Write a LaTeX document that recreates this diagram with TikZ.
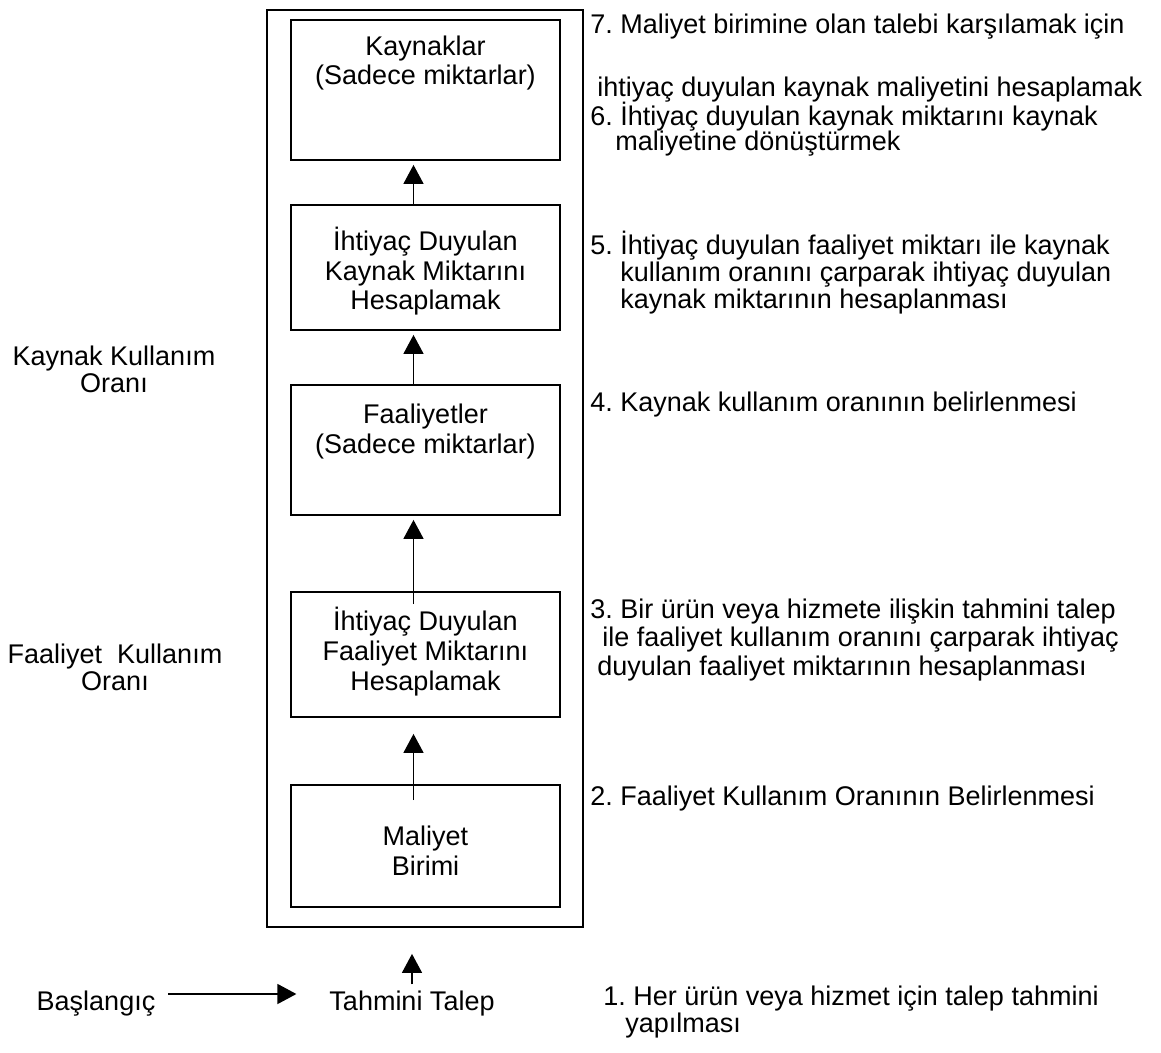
\documentclass[tikz,border=0pt]{standalone}
\usepackage{fontspec}
\setmainfont{Liberation Sans}
\usetikzlibrary{arrows.meta,positioning}
\newcommand{\notefont}{\fontsize{13.5}{13.5}\selectfont}
\newcommand{\boxfont}{\fontsize{13.5}{14.8}\selectfont}
\frenchspacing
\tikzset{
  stepbox/.style={draw,line width=0.9pt,minimum width=134.5pt,minimum height=62.5pt,
    align=center,inner sep=0pt,text height=0pt,text depth=0pt,font=\boxfont},
  framebox/.style={draw,line width=0.9pt,minimum width=158pt,minimum height=458.5pt,inner sep=0pt},
  flowarrow/.style={-{Triangle[length=9.5pt,width=10pt]},line width=0.75pt},
  ratelabel/.style={align=center,anchor=base,inner sep=0pt,font=\notefont},
  stepnote/.style={align=left,anchor=base west,inner sep=0pt,font=\notefont},
  plainlabel/.style={font=\notefont}
}

\begin{document}
\begin{tikzpicture}[x=0.5pt,y=-0.5pt]
  \useasboundingbox (0,0) rectangle (1161,1053);
  % outer frame and the five steps
  \node[framebox] (frame) at (425,468.5) {};
  \node[stepbox,minimum height=70pt,text depth=5pt] (kaynak) at (425.5,90) {Kaynaklar\\(Sadece miktarlar)};
  \node[stepbox,text height=42.5pt] (kmiktar) at (425.5,267.5) {İhtiyaç Duyulan\\Kaynak Miktarını\\Hesaplamak};
  \node[stepbox,minimum height=65pt,text height=3pt] (faaliyet) at (425.5,450) {Faaliyetler\\(Sadece miktarlar)};
  \node[stepbox,text height=35.5pt] (fmiktar) at (425.5,654.5) {İhtiyaç Duyulan\\Faaliyet Miktarını\\Hesaplamak};
  \node[stepbox,minimum height=61pt,text height=29pt] (birim) at (425.5,846) {Maliyet\\Birimi};

  % rates on the left
  \node[ratelabel] (kkoran) at (114,393) {Kaynak Kullanım\\Oranı};
  \node[ratelabel] (fkoran) at (115,690) {Faaliyet \ Kullanım\\Oranı};

  % start
  \node[plainlabel] (baslangic) at (96,1004) {Başlangıç};
  \node[plainlabel] (talep) at (412,1004) {Tahmini Talep};

  % numbered notes on the right
  \node[stepnote] (not7) at (590,97) {7. Maliyet birimine olan talebi karşılamak için\\[18pt]\hspace*{3.5pt}ihtiyaç duyulan kaynak maliyetini hesaplamak};
  \node[stepnote] (not6) at (590,151) {6. İhtiyaç duyulan kaynak miktarını kaynak\\[-1pt]\hspace*{12.5pt}maliyetine dönüştürmek};
  \node[stepnote] (not5) at (590,309) {5. İhtiyaç duyulan faaliyet miktarı ile kaynak\\\hspace*{15pt}kullanım oranını çarparak ihtiyaç duyulan\\\hspace*{15pt}kaynak miktarının hesaplanması};
  \node[stepnote] (not4) at (590,411) {4. Kaynak kullanım oranının belirlenmesi};
  \node[stepnote] (not3) at (590,675) {3. Bir ürün veya hizmete ilişkin tahmini talep\\[0.5pt]\hspace*{6pt}ile faaliyet kullanım oranını çarparak ihtiyaç\\[1pt]\hspace*{3.5pt}duyulan faaliyet miktarının hesaplanması};
  \node[stepnote] (not2) at (590,805) {2. Faaliyet Kullanım Oranının Belirlenmesi};
  \node[stepnote] (not1) at (603,1032) {1. Her ürün veya hizmet için talep tahmini\\\hspace*{11pt}yapılması};

  % arrows
  \draw[flowarrow,shorten >=2pt] ([xshift=-6pt]kmiktar.north) -- ([xshift=-6pt]kaynak.south);
  \draw[flowarrow,shorten >=2pt] ([xshift=-6pt]faaliyet.north) -- ([xshift=-6pt]kmiktar.south);
  \draw[flowarrow,shorten <=-6.5pt,shorten >=2pt] ([xshift=-6pt]fmiktar.north) -- ([xshift=-6pt]faaliyet.south);
  \draw[flowarrow,shorten <=-8pt,shorten >=8pt] ([xshift=-6pt]birim.north) -- ([xshift=-6pt]fmiktar.south);
  \draw[flowarrow,shorten >=13pt] (talep.north) -- (talep.north |- frame.south);
  \draw[flowarrow,shorten <=3pt,shorten >=13pt] ([yshift=5pt]baslangic.east) -- ([yshift=5pt]talep.west);
\end{tikzpicture}
\end{document}
